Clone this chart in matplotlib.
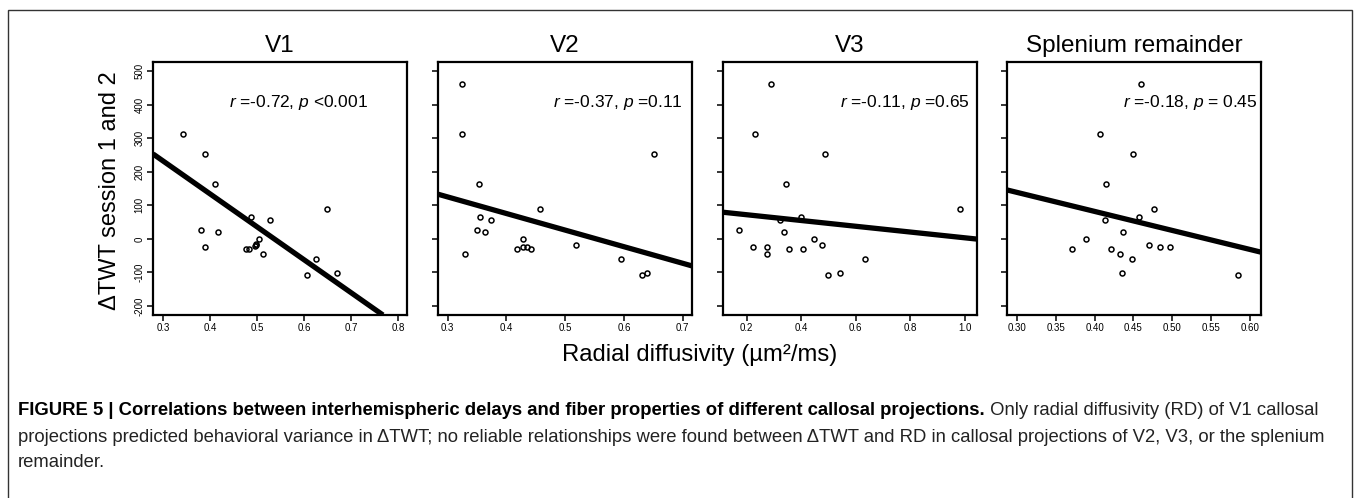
import matplotlib
matplotlib.use("Agg")
from matplotlib import pyplot as plt
from matplotlib import font_manager
from matplotlib.patches import Rectangle
import numpy as np

plt.rcParams['font.family'] = ['Liberation Sans', 'DejaVu Sans']
plt.rcParams['mathtext.fontset'] = 'custom'
plt.rcParams['mathtext.rm'] = 'Liberation Sans'
plt.rcParams['mathtext.it'] = 'Liberation Sans:italic'
plt.rcParams['axes.unicode_minus'] = False

# Radial diffusivity (x) and delta TWT (y)
v1_rd = [0.342, 0.389, 0.411, 0.380, 0.418, 0.389, 0.476, 0.484, 0.487, 0.496,
         0.498, 0.499, 0.505, 0.512, 0.527, 0.648, 0.626, 0.607, 0.670]
v1_dtwt = [311, 253, 162, 26, 20, -23, -29, -29, 66, -21,
           -18, -15, -1, -46, 56, 90, -61, -107, -102]

v2_rd = [0.3245, 0.3245, 0.353, 0.355, 0.3735, 0.350, 0.364, 0.330, 0.457, 0.4185,
         0.429, 0.429, 0.435, 0.441, 0.519, 0.5946, 0.630, 0.639, 0.651]
v2_dtwt = [462, 311, 162, 66, 56, 26, 20, -46, 90, -29,
           -1, -23, -23, -29, -17, -61, -107, -102, 253]

v3_rd = [0.288, 0.232, 0.487, 0.345, 0.980, 0.398, 0.323, 0.173, 0.336, 0.224,
         0.275, 0.275, 0.355, 0.405, 0.448, 0.476, 0.634, 0.498, 0.541]
v3_dtwt = [462, 311, 253, 162, 90, 66, 56, 26, 20, -23,
           -23, -46, -29, -29, -1, -17, -61, -107, -102]

spl_rd = [0.4599, 0.4067, 0.4496, 0.4153, 0.4766, 0.4573, 0.4131, 0.4363, 0.3887, 0.3707,
          0.4209, 0.4706, 0.4843, 0.4971, 0.4329, 0.4487, 0.4354, 0.5841]
spl_dtwt = [462, 311, 253, 162, 90, 66, 56, 20, -1, -29,
            -29, -17, -23, -23, -46, -61, -102, -107]

# Regression lines (intercept, slope)
fit_intercepts = [527, 273, 89, 309]
fit_slopes = [-982, -494, -86, -568]

panel_titles = ["V1", "V2", "V3", "Splenium remainder"]
stat_texts = ["$r$ =-0.72, $p$ <0.001", "$r$ =-0.37, $p$ =0.11",
              "$r$ =-0.11, $p$ =0.65", "$r$ =-0.18, $p$ = 0.45"]
x_ticks = [[0.3, 0.4, 0.5, 0.6, 0.7, 0.8],
           [0.3, 0.4, 0.5, 0.6, 0.7],
           [0.2, 0.4, 0.6, 0.8, 1.0],
           [0.30, 0.35, 0.40, 0.45, 0.50, 0.55, 0.60]]
x_tick_labels = [["0.3", "0.4", "0.5", "0.6", "0.7", "0.8"],
                 ["0.3", "0.4", "0.5", "0.6", "0.7"],
                 ["0.2", "0.4", "0.6", "0.8", "1.0"],
                 ["0.30", "0.35", "0.40", "0.45", "0.50", "0.55", "0.60"]]
x_limits = [(0.279, 0.819), (0.2834, 0.716), (0.113, 1.044), (0.2875, 0.614)]
y_ticks = [-200, -100, 0, 100, 200, 300, 400, 500]
y_limits = (-227, 527)

caption_bold = ("FIGURE 5 | Correlations between interhemispheric delays and fiber "
                "properties of different callosal projections.")
caption_rest1 = " Only radial diffusivity (RD) of V1 callosal"
caption_line2 = ("projections predicted behavioral variance in \u0394TWT; no reliable "
                 "relationships were found between \u0394TWT and RD in callosal "
                 "projections of V2, V3, or the splenium")
caption_line3 = "remainder."

W, H = 1354, 498


def caption_family() -> list:
    names = {f.name for f in font_manager.fontManager.ttflist}
    if 'Liberation Sans Narrow' in names:
        return ['Liberation Sans Narrow', 'Liberation Sans', 'DejaVu Sans']
    return ['Liberation Sans', 'DejaVu Sans']


def main() -> None:
    fig = plt.figure(figsize=(W / 100, H / 100), dpi=100)

    # thin frame around the whole figure
    fig.patches.append(Rectangle((8 / W, -0.05), (1352 - 8) / W, 1.05 - 10 / H,
                                 transform=fig.transFigure, fill=False,
                                 edgecolor="#333333", linewidth=1.0))

    xs = [v1_rd, v2_rd, v3_rd, spl_rd]
    ys = [v1_dtwt, v2_dtwt, v3_dtwt, spl_dtwt]
    lefts = [153, 438, 723, 1007]
    text_x = [0.845, 0.965, 0.97, 0.985]

    for i in range(4):
        ax = fig.add_axes([lefts[i] / W, 1 - 315 / H, 254 / W, 253 / H])
        ax.plot(xs[i], ys[i], 'o', mfc='none', mec='black', ms=3.6, mew=1.1)
        ax.axline((0, fit_intercepts[i]), slope=fit_slopes[i], color='black',
                  lw=3.8, solid_capstyle='butt')
        ax.set_xlim(*x_limits[i])
        ax.set_ylim(*y_limits)
        ax.set_xticks(x_ticks[i])
        ax.set_xticklabels(x_tick_labels[i])
        ax.set_yticks(y_ticks)
        if i == 0:
            ax.set_yticklabels([str(v) for v in y_ticks], rotation=90, va='center')
        else:
            ax.set_yticklabels([])
        ax.tick_params(direction='out', length=4, width=1.1, labelsize=7, pad=2)
        for s in ax.spines.values():
            s.set_linewidth(1.6)
        ax.set_title(panel_titles[i], fontsize=17.5, pad=7)
        ax.text(text_x[i], 0.84, stat_texts[i], transform=ax.transAxes,
                ha='right', va='center', fontsize=12.5)

    fig.text(110 / W, 1 - 191 / H, "\u0394TWT session 1 and 2", rotation=90,
             ha='center', va='center', fontsize=17)
    fig.text(700 / W, 1 - 355 / H, "Radial diffusivity (\u00b5m\u00b2/ms)",
             ha='center', va='center', fontsize=17.2)

    # caption: scale font so the second line spans the same width as the original
    fam = caption_family()
    renderer = fig.canvas.get_renderer()
    probe = fig.text(0, 0, caption_line2, fontsize=12, family=fam)
    w = probe.get_window_extent(renderer).width
    probe.remove()
    cap_size = 12 * (1335 - 18) / w

    x0 = 18 / W
    t_bold = fig.text(x0, 1 - 410 / H, caption_bold, fontsize=cap_size, family=fam,
                      fontweight='bold', va='center', ha='left')
    bw = t_bold.get_window_extent(renderer).width
    fig.text(x0 + bw / W, 1 - 410 / H, caption_rest1, fontsize=cap_size, family=fam,
             va='center', ha='left', color='#222222')
    fig.text(x0, 1 - 437 / H, caption_line2, fontsize=cap_size, family=fam,
             va='center', ha='left', color='#222222')
    fig.text(x0, 1 - 462 / H, caption_line3, fontsize=cap_size, family=fam,
             va='center', ha='left', color='#222222')

    fig.savefig("out.png", dpi=100)


if __name__ == "__main__":
    main()
